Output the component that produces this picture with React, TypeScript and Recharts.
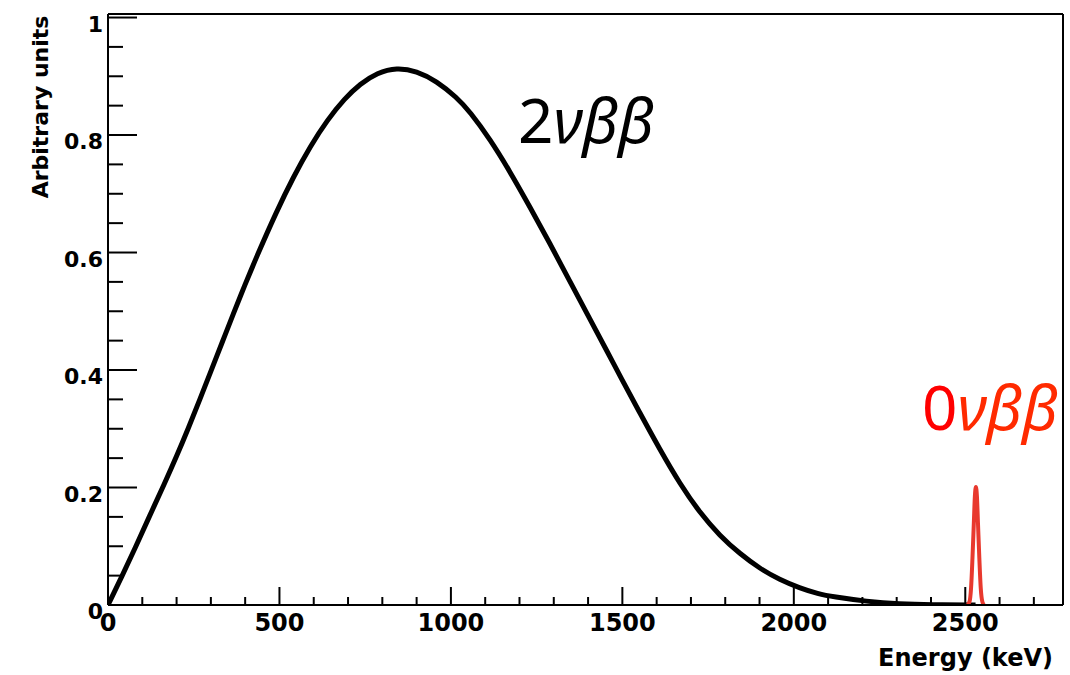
import React from 'react';
import { LineChart, Line, XAxis, YAxis } from 'recharts';

// 2vbb continuum (energy keV, arbitrary units)
const twoNuEnergy = [
  0, 40, 80, 120, 165, 200, 235, 268, 300, 333, 365, 400, 435, 490, 540, 590,
  640, 690, 735, 785, 842, 900, 958, 1017, 1055, 1114, 1172, 1230, 1289, 1347,
  1405, 1459, 1493, 1551, 1609, 1668, 1726, 1784, 1843, 1901, 1959, 2017, 2071,
  2114, 2212, 2309, 2400, 2530,
];
const twoNuValue = [
  0, 0.048, 0.098, 0.15, 0.207, 0.253, 0.302, 0.35, 0.398, 0.447, 0.495, 0.546,
  0.595, 0.668, 0.728, 0.781, 0.826, 0.862, 0.887, 0.906, 0.915, 0.909, 0.892,
  0.864, 0.84, 0.793, 0.738, 0.678, 0.615, 0.551, 0.487, 0.428, 0.39, 0.327,
  0.265, 0.206, 0.157, 0.118, 0.087, 0.062, 0.043, 0.029, 0.019, 0.014, 0.006,
  0.0015, 0.0002, 0,
];

// 0vbb peak at the Q-value
const zeroNuEnergy = [2505, 2512, 2517, 2521, 2525, 2528, 2531, 2534, 2537, 2541, 2545, 2550, 2555];
const zeroNuValue = [0, 0.005, 0.03, 0.08, 0.14, 0.185, 0.201, 0.185, 0.14, 0.08, 0.03, 0.005, 0];

const xTicks = [
  0, 100, 200, 300, 400, 500, 600, 700, 800, 900, 1000, 1100, 1200, 1300, 1400,
  1500, 1600, 1700, 1800, 1900, 2000, 2100, 2200, 2300, 2400, 2500, 2600, 2700,
];
const xMajor = [0, 500, 1000, 1500, 2000, 2500];
const yTicks = [
  0, 0.05, 0.1, 0.15, 0.2, 0.25, 0.3, 0.35, 0.4, 0.45, 0.5, 0.55, 0.6, 0.65,
  0.7, 0.75, 0.8, 0.85, 0.9, 0.95, 1,
];
const yMajor = [0, 0.2, 0.4, 0.6, 0.8, 1];

const twoNuData = twoNuEnergy.map((e, i) => ({ e, v: twoNuValue[i] }));
const zeroNuData = zeroNuEnergy.map((e, i) => ({ e, v: zeroNuValue[i] }));

const FONT = '"DejaVu Sans", sans-serif';

const XTick = (props: any) => {
  const { x, y, payload } = props;
  const major = xMajor.includes(payload.value);
  return (
    <g>
      <line x1={x} x2={x} y1={y} y2={y - (major ? 18 : 8)} stroke="#000" strokeWidth={2} />
      {major && (
        <text x={x} y={y + 26} textAnchor="middle" fontFamily={FONT} fontWeight="bold" fontSize={24} fill="#000">
          {payload.value}
        </text>
      )}
    </g>
  );
};

const YTick = (props: any) => {
  const { x, y, payload } = props;
  const major = yMajor.includes(payload.value);
  return (
    <g>
      <line x1={x} x2={x + (major ? 29 : 15)} y1={y} y2={y} stroke="#000" strokeWidth={2} />
      {major && (
        <text x={x - 5} y={y + 14} textAnchor="end" fontFamily={FONT} fontWeight="bold" fontSize={22} fill="#000">
          {payload.value}
        </text>
      )}
    </g>
  );
};

export default function App() {
  return (
    <div style={{ position: 'absolute', left: 0, top: 0, width: 1070, height: 675, background: '#fff' }}>
      <LineChart width={1070} height={675} margin={{ top: 0, right: 0, bottom: 0, left: 0 }}>
        <XAxis
          dataKey="e"
          type="number"
          domain={[0, 2785]}
          allowDataOverflow
          ticks={xTicks}
          interval={0}
          height={70}
          tickSize={0}
          tickMargin={0}
          tickLine={false}
          tick={<XTick />}
          axisLine={{ stroke: '#000', strokeWidth: 2 }}
        />
        <XAxis
          xAxisId="top"
          orientation="top"
          type="number"
          domain={[0, 2785]}
          height={14}
          tick={false}
          tickLine={false}
          axisLine={{ stroke: '#000', strokeWidth: 2 }}
        />
        <YAxis
          type="number"
          domain={[0, 1.006]}
          allowDataOverflow
          ticks={yTicks}
          interval={0}
          width={108}
          tickSize={0}
          tickMargin={0}
          tickLine={false}
          tick={<YTick />}
          axisLine={{ stroke: '#000', strokeWidth: 2 }}
        />
        <YAxis
          yAxisId="right"
          orientation="right"
          type="number"
          domain={[0, 1]}
          width={7}
          tick={false}
          tickLine={false}
          axisLine={{ stroke: '#000', strokeWidth: 2 }}
        />
        <Line
          data={twoNuData}
          dataKey="v"
          type="basis"
          stroke="#000"
          strokeWidth={5}
          dot={false}
          activeDot={false}
          isAnimationActive={false}
        />
        <Line
          data={zeroNuData}
          dataKey="v"
          type="monotone"
          stroke="#e8392e"
          strokeWidth={4}
          dot={false}
          activeDot={false}
          isAnimationActive={false}
        />
      </LineChart>
      <svg
        width={1070}
        height={675}
        style={{ position: 'absolute', left: 0, top: 0, pointerEvents: 'none' }}
      >
        <text
          x={48}
          y={107}
          textAnchor="middle"
          transform="rotate(-90, 48, 107)"
          fontFamily={FONT}
          fontWeight="bold"
          fontSize={22}
          fill="#000"
        >
          Arbitrary units
        </text>
        <text x={1053} y={666} textAnchor="end" fontFamily={FONT} fontWeight="bold" fontSize={24} fill="#000">
          Energy (keV)
        </text>
        <text x={518} y={143} fontFamily='"Noto Sans", sans-serif' fontSize={62} fill="#000">
          2<tspan fontStyle="italic">νββ</tspan>
        </text>
        <text x={922} y={430} fontFamily='"Noto Sans", sans-serif' fontSize={62} fill="#ff0000">
          0<tspan fontStyle="italic" fill="#ff2a00">νββ</tspan>
        </text>
      </svg>
    </div>
  );
}
